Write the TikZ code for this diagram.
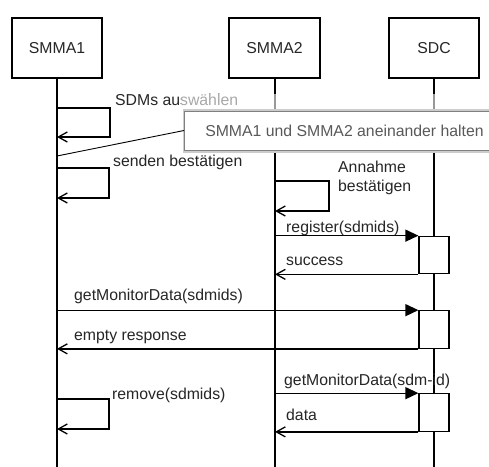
\documentclass[tikz,border=0pt]{standalone}
\usepackage{fontspec}
\setmainfont{Liberation Sans}
\usetikzlibrary{arrows.meta,calc}
\begin{document}
\begin{tikzpicture}[x=1pt,y=-1pt,
  font=\fontsize{15.8}{19}\selectfont,
  actor/.style={draw,line width=1.2pt,minimum width=90pt,minimum height=60pt,inner sep=0pt,text=black!85},
  life/.style={line width=1.8pt},
  msg/.style={line width=1.3pt},
  call/.style={msg,-{Triangle[length=13pt,width=12pt]}},
  ret/.style={msg,-{Straight Barb[length=9pt,width=10pt]}},
  act/.style={draw,fill=white,line width=1.2pt,minimum width=30pt,minimum height=37.5pt,inner sep=0pt},
  lbl/.style={anchor=base west,inner sep=0pt,text=black!85}]
\clip (0,0) rectangle (489,466);
\fill[white] (0,0) rectangle (489,466);
% actors
\node[actor] (s1) at (57,48) {SMMA1};
\node[actor,minimum width=91pt] (s2) at (274.5,48) {SMMA2};
\node[actor] (sdc) at (434,48) {SDC};
\coordinate (s1end) at (57,470);
\coordinate (s2end) at (275,470);
\coordinate (sdcend) at (434,470);
\draw[life] (s1) -- (s1end);
\draw[life] (s2.south -| s2end) -- (s2end);
\draw[life] (sdc) -- (sdcend);
% self messages
\coordinate (m1a) at (57,108); \coordinate (m1b) at (57,137);
\draw[ret] (m1a) -- ++(53,0) |- (m1b);
\node[lbl] (l1) at (115,105) {SDMs auswählen};
\coordinate (m2a) at (57,168); \coordinate (m2b) at (57,198);
\draw[ret] (m2a) -- ++(52,0) |- (m2b);
\node[lbl] (l2) at (113,166) {senden bestätigen};
\coordinate (m3a) at (275,181); \coordinate (m3b) at (275,211);
\draw[ret] (m3a) -- ++(54,0) |- (m3b);
\node[lbl,align=left,anchor=north west] (l3) at (338,161) {Annahme\\bestätigen};
\coordinate (m4a) at (57,399); \coordinate (m4b) at (57,429);
\draw[ret] (m4a) -- ++(52,0) |- (m4b);
\node[lbl] (l4) at (112,399) {remove(sdmids)};
% activations
\node[act] (a1) at (434,255) {};
\node[act] (a2) at (434,329.5) {};
\node[act] (a3) at (434,412.5) {};
\coordinate (s2x) at (275,0);
\draw[call] (s2x |- a1.north west) -- (a1.north west);
\node[lbl] (l5) at (286,232) {register(sdmids)};
\draw[ret] (a1.south west) -- (s2x |- a1.south west);
\node[lbl] (l6) at (286,265) {success};
\draw[call] (s1 |- a2.north west) -- (a2.north west);
\node[lbl] (l7) at (74,300.5) {getMonitorData(sdmids)};
\draw[ret] (a2.south west) -- (s1 |- a2.south west);
\node[lbl] (l8) at (74,340) {empty response};
\draw[call] (s2x |- a3.north west) -- (a3.north west);
\node[lbl] (l9) at (284,385.5) {getMonitorData(sdm-id)};
\draw[ret] (a3.south west) -- (s2x |- a3.south west);
\node[lbl] (l10) at (286,420.5) {data};
% note
\fill[white,opacity=0.6] (181,94) rectangle (489,111);
\node[draw=black!20,line width=2.5pt,minimum width=322pt,minimum height=41pt,anchor=west,inner sep=0pt] (noteshadow) at (183,131) {};
\node[draw=black!50,fill=white,line width=1pt,minimum width=320pt,minimum height=39pt,anchor=west,inner sep=0pt,text=black!65] (note) at (184,130.5) {SMMA1 und SMMA2 aneinander halten};
\coordinate (nt) at (57,156);
\draw[line width=0.9pt] (note.west) -- (nt);
\end{tikzpicture}
\end{document}
